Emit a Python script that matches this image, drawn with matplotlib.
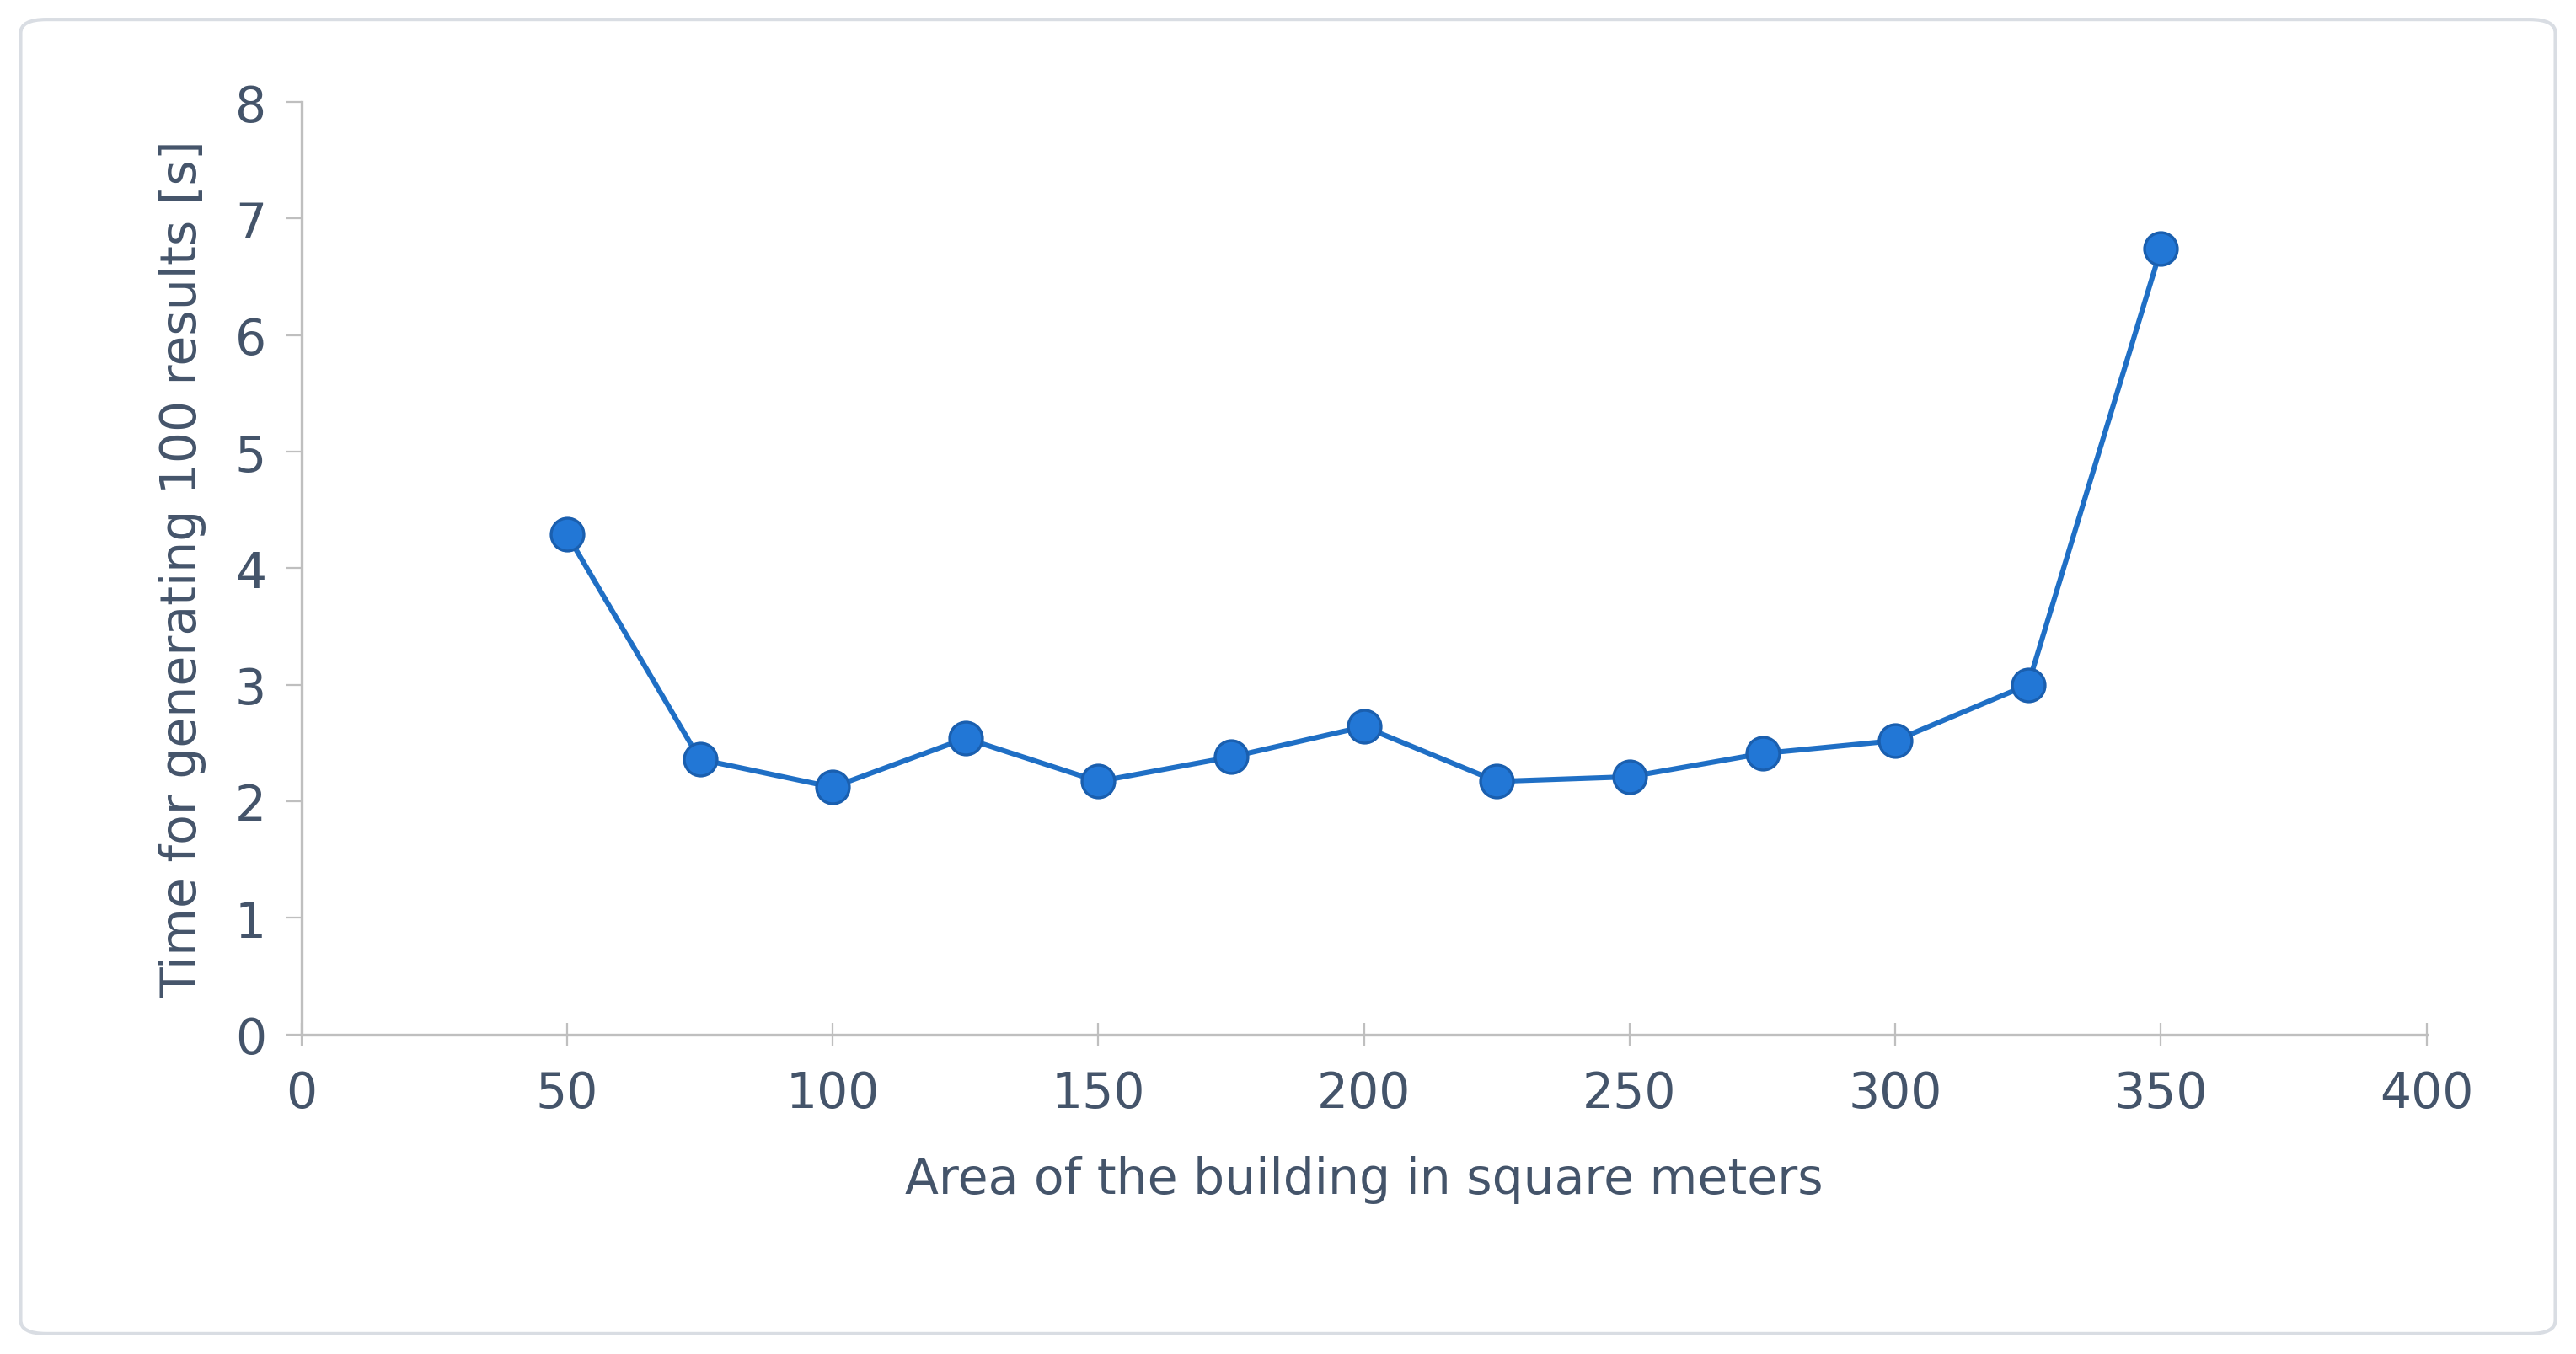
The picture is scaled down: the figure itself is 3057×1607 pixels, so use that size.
import matplotlib
matplotlib.use('Agg')
from matplotlib import pyplot as plt
from matplotlib.patches import FancyBboxPatch

area = [50, 75, 100, 125, 150, 175, 200, 225, 250, 275, 300, 325, 350]
time_s = [4.29, 2.36, 2.12, 2.54, 2.17, 2.38, 2.64, 2.17, 2.21, 2.41, 2.52, 3.00, 6.74]

txt = '#44546A'
grid = '#BFBFBF'

fig = plt.figure(figsize=(15.285, 8.04), dpi=200)
ax = fig.add_axes([0.117, 0.236, 0.825, 0.688])

ax.plot(area, time_s, color='#1F6FC5', lw=2.2, marker='o', ms=14,
        markerfacecolor='#2277D6', markeredgecolor='#1A5FAF', markeredgewidth=1.2, zorder=3)

ax.set_xlim(0, 400)
ax.set_ylim(0, 8)
ax.set_xticks(range(0, 401, 50))
ax.set_yticks(range(0, 9))
for s in ['top', 'right']:
    ax.spines[s].set_visible(False)
for s in ['left', 'bottom']:
    ax.spines[s].set_color(grid)
    ax.spines[s].set_linewidth(1.2)
ax.tick_params(axis='x', direction='inout', length=10, color=grid, labelsize=21, labelcolor=txt, pad=10)
ax.tick_params(axis='y', direction='out', length=7, color=grid, labelsize=21, labelcolor=txt, pad=8)

ax.set_xlabel('Area of the building in square meters', fontsize=21, color=txt, labelpad=16)
ax.set_ylabel('Time for generating 100 results [s]', fontsize=21, color=txt, labelpad=12)

# outer frame
frame = FancyBboxPatch((0.008, 0.015), 0.984, 0.97, boxstyle='round,pad=0,rounding_size=0.01',
                       transform=fig.transFigure, fill=False, edgecolor='#D9DDE3', lw=1.5)
fig.patches.append(frame)

fig.savefig('out.png', dpi=200)
